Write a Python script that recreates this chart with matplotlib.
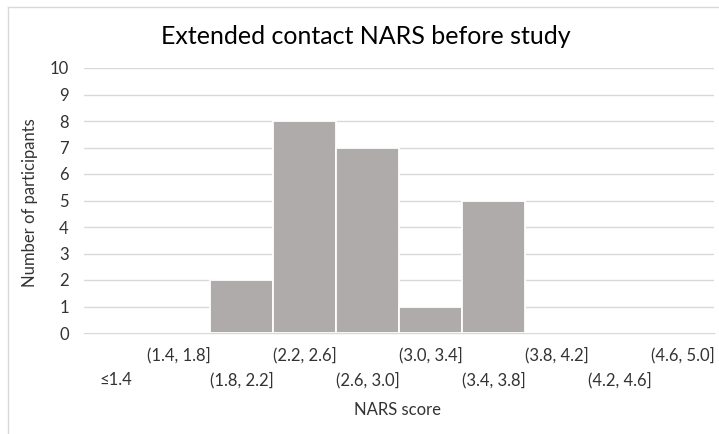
import matplotlib
matplotlib.use("Agg")
import matplotlib.pyplot as plt
from matplotlib.transforms import blended_transform_factory
from matplotlib.lines import Line2D

# Histogram bins and participant counts
bins = ["≤1.4", "(1.4, 1.8]", "(1.8, 2.2]", "(2.2, 2.6]", "(2.6, 3.0]",
        "(3.0, 3.4]", "(3.4, 3.8]", "(3.8, 4.2]", "(4.2, 4.6]", "(4.6, 5.0]"]
counts = [0, 0, 2, 8, 7, 1, 5, 0, 0, 0]
y_ticks = list(range(0, 11))

title = "Extended contact NARS before study"
x_label = "NARS score"
y_label = "Number of participants"

plt.rcParams["font.family"] = ["Lato", "DejaVu Sans"]

W, H = 719, 434
fig = plt.figure(figsize=(W / 100, H / 100), dpi=100)
fig.patch.set_facecolor("white")

left, right, top, bottom = 84, 714, 68, 333
ax = fig.add_axes([left / W, 1 - bottom / H, (right - left) / W, (bottom - top) / H])

x = list(range(len(bins)))
ax.bar(x, counts, width=1.0, color="#AFABAB", edgecolor="white", linewidth=1.3, zorder=3)

txt = "#333333"
fs = 12
ax.set_xlim(-0.5, len(bins) - 0.5)
ax.set_ylim(0, 10)
ax.set_yticks(y_ticks)
ax.set_yticklabels([str(v) for v in y_ticks], fontsize=fs, color=txt)
ax.tick_params(axis="y", length=0, pad=11)
ax.set_xticks([])
ax.grid(axis="y", color="#D9D9D9", linewidth=1.0, zorder=0)
ax.set_axisbelow(True)
for side in ["top", "right", "left"]:
    ax.spines[side].set_visible(False)
ax.spines["bottom"].set_color("#D9D9D9")
ax.spines["bottom"].set_linewidth(1.0)

# Category labels in two staggered rows
trans = blended_transform_factory(ax.transData, fig.transFigure)
for i, lab in enumerate(bins):
    ypix = 355 if i % 2 == 1 else 380
    ax.text(i, 1 - ypix / H, lab, transform=trans, ha="center", va="center",
            fontsize=fs, color=txt)

fig.text(398 / W, 1 - 410 / H, x_label, ha="center", va="center", fontsize=fs, color=txt)
fig.text(30 / W, 1 - 203 / H, y_label, ha="center", va="center", rotation=90,
         fontsize=fs, color=txt)
fig.text(366 / W, 1 - 37 / H, title, ha="center", va="center", fontsize=18, color="#000000")

# Light chart border
fig.add_artist(Line2D([8 / W, 8 / W], [0, 1 - 7 / H], transform=fig.transFigure,
                      color="#D9D9D9", linewidth=1.0))
fig.add_artist(Line2D([8 / W, 1], [1 - 7 / H, 1 - 7 / H], transform=fig.transFigure,
                      color="#D9D9D9", linewidth=1.0))

fig.savefig("out.png", dpi=100)
